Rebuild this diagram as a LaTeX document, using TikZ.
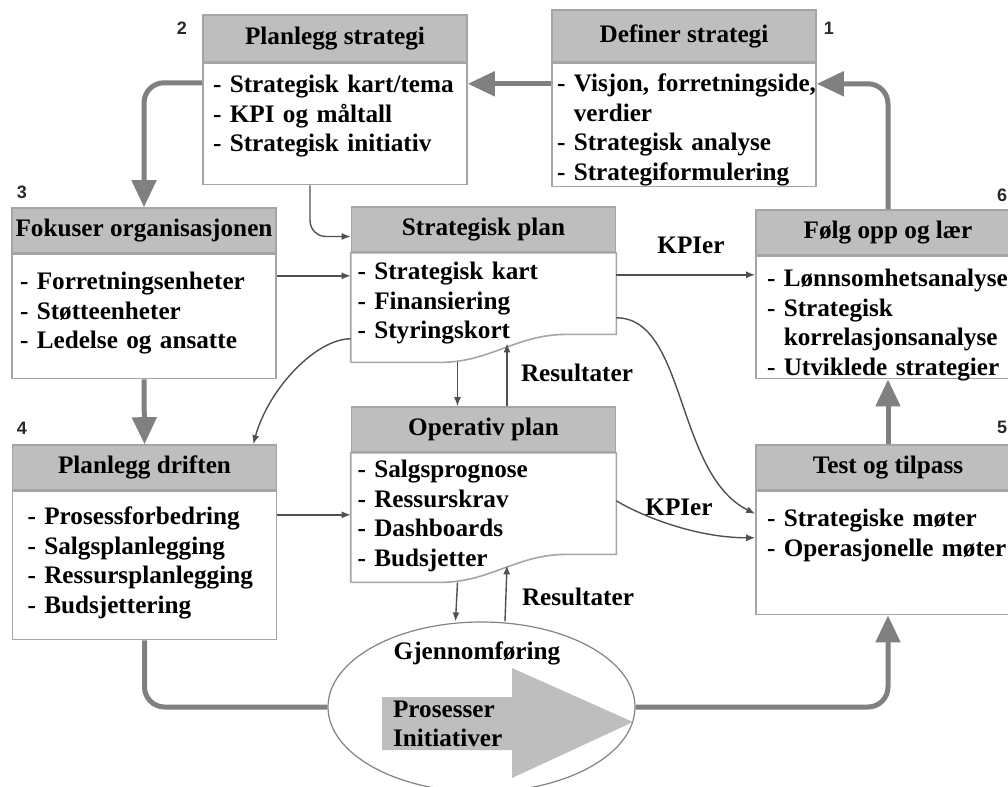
\documentclass[tikz,border=0pt]{standalone}
\usepackage{fontspec}
\setmainfont{Liberation Serif}
\newfontfamily\numfont{Liberation Sans}
\usepackage{tikz}
\usetikzlibrary{
    arrows.meta,
    positioning,
    shapes.geometric
}
\usepackage{xcolor}
\definecolor{headgray}{RGB}{190,190,190}
\definecolor{boxline}{RGB}{165,165,165}
\definecolor{flowgray}{RGB}{128,128,128}
\definecolor{linkgray}{RGB}{80,80,80}
\definecolor{ellgray}{RGB}{130,130,130}
\definecolor{numgray}{RGB}{40,40,40}

\begin{document}
\begin{tikzpicture}[
        x=0.5pt, y=-0.5pt,
        >=Stealth,
        txt/.style={
            font=\fontsize{12.6}{14.75}\selectfont\bfseries
        },
        head/.style={
            txt,
            rectangle,
            draw=boxline,
            fill=headgray,
            line width=0.8pt,
            minimum width=132pt,
            minimum height=22.5pt,
            inner sep=0pt
        },
        body/.style={
            txt,
            rectangle,
            draw=boxline,
            fill=white,
            line width=0.8pt,
            align=left,
            text width=132pt,
            inner sep=0pt,
            execute at begin node={\leftskip=#1}
        },
        body/.default=3pt,
        num/.style={
            font=\numfont\bfseries\fontsize{9}{10}\selectfont,
            text=numgray
        },
        flow/.style={
            draw=flowgray,
            line width=2.5pt,
            rounded corners=10pt,
            -{Triangle[length=13.5pt, width=12pt]}
        },
        link/.style={
            draw=linkgray,
            line width=0.7pt,
            -{Latex[length=4.5pt, width=3.5pt]}
        },
        tag/.style={txt}
    ]
        \useasboundingbox (0,0) rectangle (1008,787);
        \clip (0,0) rectangle (1008,787);

        \node[head, minimum height=26pt] (defhead) at (684,36) {Definer strategi};
        \node[body=2.5pt, text height=14pt, text depth=47.5pt, below=0pt of defhead] (defbody)
            {- Visjon, forretningside,\\\phantom{- }verdier\\- Strategisk analyse\\- Strategiformulering};

        \node[head, minimum height=23.5pt] (planhead) at (335,38.5) {Planlegg strategi};
        \node[body=5pt, text height=14.5pt, text depth=46pt, below=0pt of planhead] (planbody)
            {- Strategisk kart/tema\\- KPI og måltall\\- Strategisk initiativ};

        \node[head] (fokhead) at (144,230.5) {Fokuser organisasjonen};
        \node[body=4pt, text height=17.5pt, text depth=44.5pt, below=0pt of fokhead] (fokbody)
            {- Forretningsenheter\\- Støtteenheter\\- Ledelse og ansatte};

        \node[head] (drifthead) at (144.5,467.5) {Planlegg driften};
        \node[body=7.5pt, text height=16.5pt, text depth=57.5pt, below=0pt of drifthead] (driftbody)
            {- Prosessforbedring\\- Salgsplanlegging\\- Ressursplanlegging\\- Budsjettering};

        \node[head] (splanhead) at (483.5,229.5) {Strategisk plan};
        \node[body=3pt, draw=none, text height=13pt, text depth=41pt, below=0pt of splanhead] (splanbody)
            {- Strategisk kart\\- Finansiering\\- Styringskort};
        \draw[boxline, line width=0.8pt] (splanbody.south west) -- (splanbody.north west)
            -- (splanbody.north east) -- ([yshift=14pt]splanbody.south east) -- ++(-50,0)
            .. controls +(-50,0) and +(50,0) .. ([xshift=-21.75pt]splanbody.south)
            -- (splanbody.south west);

        \node[head] (oplanhead) at (483.5,429.5) {Operativ plan};
        \node[body=3pt, draw=none, text height=12pt, text depth=52pt, below=0pt of oplanhead] (oplanbody)
            {- Salgsprognose\\- Ressurskrav\\- Dashboards\\- Budsjetter};
        \draw[boxline, line width=0.8pt] (oplanbody.south west) -- (oplanbody.north west)
            -- (oplanbody.north east) -- ([yshift=14pt]oplanbody.south east) -- ++(-50,0)
            .. controls +(-50,0) and +(50,0) .. ([xshift=-21.75pt]oplanbody.south)
            -- (oplanbody.south west);

        \node[head] (folghead) at (888,232.5) {Følg opp og lær};
        \node[body=5.5pt, text height=15pt, text depth=46pt, below=0pt of folghead] (folgbody)
            {- Lønnsomhetsanalyse\\- Strategisk\\\phantom{- }korrelasjonsanalyse\\- Utviklede strategier};

        \node[head] (testhead) at (888,467.5) {Test og tilpass};
        \node[body=5.5pt, text height=17.5pt, text depth=44pt, below=0pt of testhead] (testbody)
            {- Strategiske møter\\- Operasjonelle møter};

        \node[ellipse, draw=ellgray, line width=0.6pt, minimum width=153.5pt,
            minimum height=85pt, inner sep=0pt] (gjen) at (481.5,707) {};
        \fill[headgray] (382,697) -- (512,697) -- (512,668) -- (633,722)
            -- (512,778) -- (512,750) -- (382,750) -- cycle;
        \node[tag] (gjentxt) at (477,653) {Gjennomføring};
        \node[tag, align=left, anchor=west] (proc) at (386,724) {Prosesser\\Initiativer};

        \node[num] (n1) at (829,28) {1};
        \node[num] (n2) at (182,28) {2};
        \node[num] (n3) at (22,192) {3};
        \node[num] (n4) at (22,428) {4};
        \node[num] (n5) at (1002,427) {5};
        \node[num] (n6) at (1002,195) {6};

        \draw[flow] ([yshift=-10.5pt]defbody.north west) -- ([yshift=-10.5pt]planbody.north east);
        \draw[flow] ([yshift=-10pt]planbody.north west) -| (fokhead.north);
        \draw[flow] (fokbody.south) -- (drifthead.north);
        \draw[flow, -] (driftbody.south) |- (gjen.west);
        \draw[flow] (gjen.east) -| (testbody.south);
        \draw[flow] (testhead.north) -- (folgbody.south);
        \draw[flow] (folghead.north) |- ([yshift=-10.5pt]defbody.north east);

        \draw[link, rounded corners=8pt] ([xshift=-12.5pt]planbody.south) |- ([yshift=-3.5pt]splanhead.west);
        \draw[link] ([yshift=-11pt]fokbody.north east) -- ([yshift=-11.5pt]splanbody.north west);
        \draw[link] ([yshift=-11pt]splanbody.north east) -- ([yshift=-9.5pt]folgbody.north west);
        \node[tag] (kpi1) at (691,245) {KPIer};
        \draw[link] ([yshift=-43pt]splanbody.north west) .. controls +(-35,0) and +(15,-55)
            .. ([xshift=-12pt]drifthead.north east);
        \draw[link] ([yshift=-32.5pt]splanbody.north east) .. controls +(70,0) and +(-80,-40)
            .. ([yshift=-11.5pt]testbody.north west);
        \draw[link] ([yshift=-24pt]oplanbody.north east) .. controls +(25,15) and +(-60,0)
            .. ([yshift=-23.5pt]testbody.north west);
        \node[tag] (kpi2) at (679,507) {KPIer};
        \draw[link] ([xshift=-13pt]splanbody.south) -- ([xshift=-13pt]oplanhead.north);
        \draw[link] ([xshift=11.75pt]oplanhead.north) -- ([xshift=11.75pt, yshift=9.5pt]splanbody.south);
        \node[tag] (res1) at (577,373) {Resultater};
        \draw[link] ([yshift=-12pt]driftbody.north east) -- ([yshift=-31pt]oplanbody.north west);
        \draw[link] ([xshift=-13pt]oplanbody.south) -- ([xshift=-13pt]gjen.north);
        \draw[link] ([xshift=11.75pt]gjen.north) -- ([xshift=11.75pt, yshift=8.5pt]oplanbody.south);
        \node[tag] (res2) at (578,597) {Resultater};
    \end{tikzpicture}
\end{document}
